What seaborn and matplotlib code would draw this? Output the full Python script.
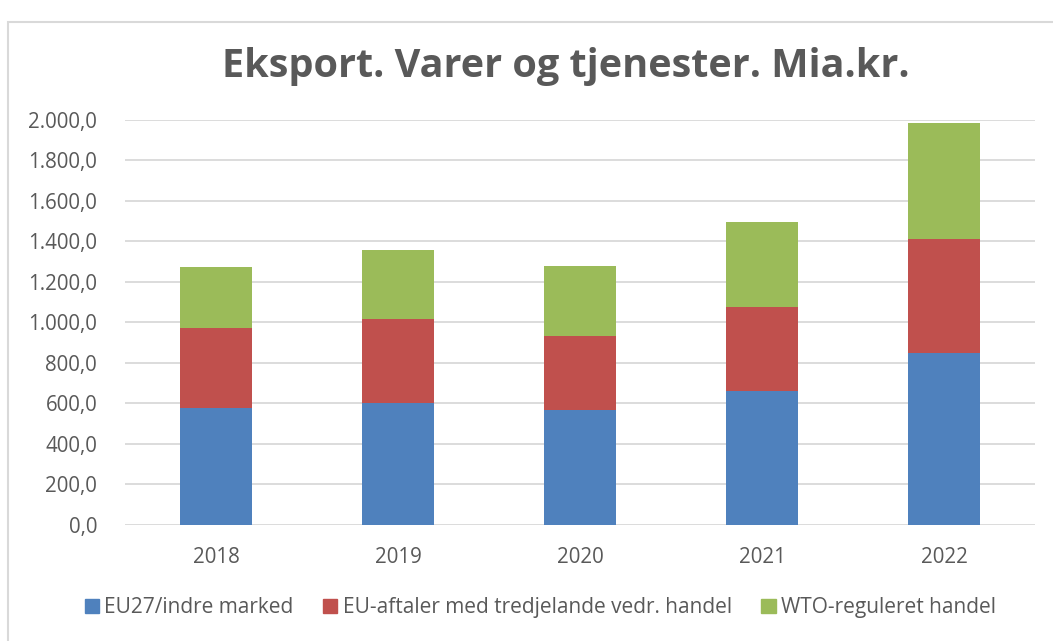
import matplotlib
matplotlib.use("Agg")
import matplotlib.pyplot as plt
import matplotlib.patches as mpatches
from matplotlib.ticker import FuncFormatter
import seaborn as sns
import pandas as pd

years = ["2018", "2019", "2020", "2021", "2022"]
series_names = ["EU27/indre marked",
                "EU-aftaler med tredjelande vedr. handel",
                "WTO-reguleret handel"]
eu27 = [576, 604, 569, 662, 851]
eu_aftaler = [398, 415, 363, 416, 560]
wto = [299, 337, 349, 420, 574]

colors = ["#4f81bd", "#c0504d", "#9bbb59"]
text_grey = "#595959"
grid_grey = "#d9d9d9"


def danish(v, pos):
    s = f"{v:,.1f}"
    return s.replace(",", "X").replace(".", ",").replace("X", ".")


sns.set_style("white")
plt.rcParams["font.family"] = ["Open Sans", "DejaVu Sans"]

df = pd.DataFrame({"year": years, "s1": eu27, "s2": eu_aftaler, "s3": wto})
df["c1"] = df["s1"]
df["c2"] = df["c1"] + df["s2"]
df["c3"] = df["c2"] + df["s3"]

fig = plt.figure(figsize=(10.53, 6.41), dpi=100)
ax = fig.add_axes([0.1187, 0.181, 0.8643, 0.632])

# draw from the tallest cumulative layer down so the stack shows
for col, color in zip(["c3", "c2", "c1"], colors[::-1]):
    sns.barplot(data=df, x="year", y=col, color=color, width=0.4,
                saturation=1, linewidth=0, ax=ax, zorder=3)

ax.set_ylim(0, 2000)
ax.set_yticks(range(0, 2001, 200))
ax.yaxis.set_major_formatter(FuncFormatter(danish))
ax.grid(True, axis="y", color=grid_grey, linewidth=1.3, zorder=0)
ax.set_axisbelow(True)
for s in ax.spines.values():
    s.set_visible(False)
ax.set_xlabel("")
ax.set_ylabel("")
ax.tick_params(axis="both", length=0, labelsize=14.8, labelcolor=text_grey)
ax.tick_params(axis="x", pad=16)
ax.tick_params(axis="y", pad=20)

fig.text(0.537, 0.897, "Eksport. Varer og tjenester. Mia.kr.", ha="center",
         va="center", fontsize=28.5, fontweight="bold", color=text_grey)

handles = [mpatches.Patch(color=c, label=n) for c, n in zip(colors, series_names)]
fig.legend(handles=handles, loc="center", bbox_to_anchor=(0.513, 0.052),
           ncol=3, frameon=False, fontsize=15, handlelength=0.7,
           handleheight=0.7, handletextpad=0.25, columnspacing=1.4,
           labelcolor=text_grey)

# chart frame
frame = mpatches.Rectangle((8 / 1053, -0.01), 1.2, (641 - 22) / 641 + 0.01,
                           transform=fig.transFigure, fill=False,
                           edgecolor="#d9d9d9", linewidth=1.5)
fig.patches.append(frame)

fig.savefig("out.png", dpi=100)
